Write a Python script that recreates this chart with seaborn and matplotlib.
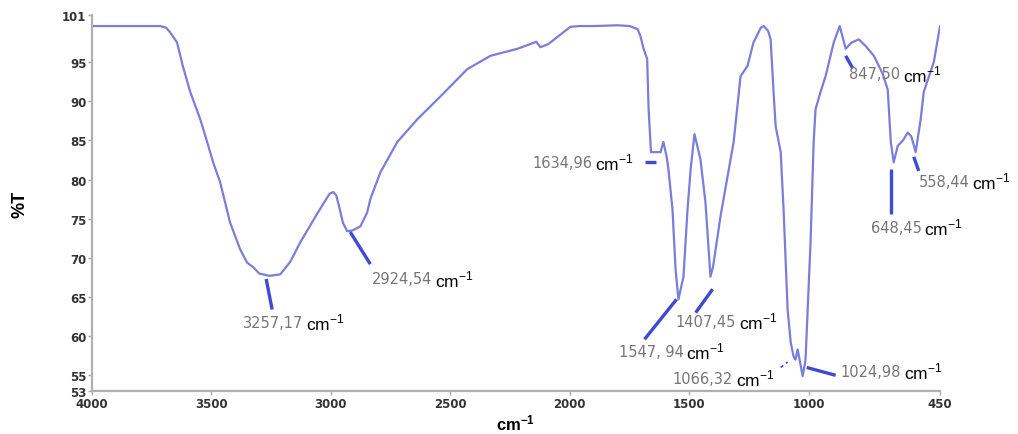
import matplotlib
matplotlib.use("Agg")
import matplotlib.pyplot as plt
import seaborn as sns
import pandas as pd

# ---- data ----
wavenumber = [4000, 3800, 3715, 3690, 3673, 3644, 3620, 3589, 3547, 3518, 3493, 3464,
              3422, 3380, 3351, 3325, 3300, 3257, 3212, 3170, 3128, 3060, 3030, 3005,
              2990, 2978, 2965, 2950, 2932, 2910, 2877, 2848, 2835, 2793, 2722, 2638,
              2542, 2429, 2332, 2219, 2165, 2140, 2123, 2090, 2052, 1998, 1960, 1900,
              1800, 1750, 1716, 1704, 1691, 1676, 1670, 1660, 1649, 1620, 1608, 1595,
              1587, 1570, 1557, 1545, 1524, 1507, 1494, 1478, 1453, 1432, 1411, 1400,
              1369, 1314, 1285, 1256, 1231, 1200, 1188, 1170, 1159, 1147, 1138, 1117,
              1105, 1088, 1075, 1063, 1055, 1046, 1025, 1013, 992, 979, 971, 950, 929,
              895, 870, 845, 820, 790, 760, 727, 690, 669, 656, 644, 627, 605, 585,
              570, 552, 531, 518, 476, 450]
transmittance = [99.6, 99.6, 99.6, 99.4, 98.8, 97.5, 94.5, 91.2, 87.7, 84.8, 82.2, 79.7,
                 74.5, 71.1, 69.4, 68.8, 68.0, 67.7, 67.9, 69.5, 72.0, 75.5, 77.0, 78.2,
                 78.4, 78.0, 76.5, 74.5, 73.4, 73.5, 74.0, 75.8, 77.5, 80.9, 84.8, 87.7,
                 90.6, 94.1, 95.8, 96.7, 97.3, 97.6, 96.9, 97.3, 98.2, 99.5, 99.6, 99.6,
                 99.7, 99.6, 99.2, 98.3, 96.7, 95.4, 89.0, 83.5, 83.5, 83.5, 84.8, 83.0,
                 81.3, 76.2, 68.5, 64.7, 67.6, 76.2, 81.3, 85.8, 82.6, 77.1, 67.6, 68.9,
                 75.3, 84.8, 93.2, 94.5, 97.5, 99.4, 99.6, 99.0, 97.9, 91.2, 86.8, 83.5,
                 76.2, 63.4, 59.2, 57.4, 57.0, 58.3, 54.9, 57.0, 72.0, 84.8, 89.0, 91.2,
                 93.2, 97.5, 99.6, 96.7, 97.5, 97.9, 97.0, 95.8, 93.5, 91.5, 84.8, 82.2,
                 84.3, 85.0, 86.0, 85.5, 83.5, 87.7, 91.2, 95.0, 99.6]

x_ticks = [4000, 3500, 3000, 2500, 2000, 1500, 1000, 450]
y_ticks = [53, 55, 60, 65, 70, 75, 80, 85, 90, 95, 101]

# peak annotations
peak_labels = ["3257,17", "2924,54", "1634,96", "1547, 94", "1407,45",
               "1066,32", "1024,98", "847,50", "648,45", "558,44"]
label_x = [3367, 2827, 2156, 1796, 1557, 1570, 866, 832, 740, 539]
label_y = [61.8, 67.3, 82.2, 58.1, 61.9, 54.6, 55.5, 93.5, 73.9, 79.8]
lead_x0 = [3271, 2919, 1683, 1553, 1402, 1117, 1008, 845, 656, 560]
lead_y0 = [67.3, 73.3, 82.2, 64.7, 66.0, 56.0, 56.0, 95.8, 81.3, 82.9]
lead_x1 = [3246, 2835, 1637, 1687, 1473, 1088, 887, 815, 656, 539]
lead_y1 = [63.4, 69.2, 82.2, 59.6, 63.0, 56.7, 55.0, 94.2, 75.6, 81.1]
lead_dashed = [False, False, False, False, False, True, False, False, False, False]

df = pd.DataFrame({"wavenumber": wavenumber, "T": transmittance})

sns.set_theme(style="white")
plt.rcParams["font.family"] = ["Liberation Sans", "DejaVu Sans"]
plt.rcParams["mathtext.fontset"] = "custom"
plt.rcParams["mathtext.rm"] = "Liberation Sans"
plt.rcParams["mathtext.bf"] = "Liberation Sans:bold"

fig = plt.figure(figsize=(10.18, 4.35), dpi=100)
ax = fig.add_axes([0.0904, 0.0989, 0.8330, 0.8641])

sns.lineplot(data=df, x="wavenumber", y="T", ax=ax, color="#7a7ed8",
             linewidth=1.6, estimator=None)

ax.set_xlim(4000, 450)
ax.set_ylim(53, 101)
ax.set_xticks(x_ticks)
ax.set_yticks(y_ticks)
tick_font = dict(fontsize=8.5, fontweight="bold", color="#333333", family="DejaVu Sans")
ax.set_xticklabels([str(v) for v in x_ticks], **tick_font)
ax.set_yticklabels([str(v) for v in y_ticks], **tick_font)
ax.tick_params(axis="both", which="both", direction="out", length=3, width=1,
               color="#aaaaaa", pad=1, left=True, bottom=True)

for side in ["top", "right"]:
    ax.spines[side].set_visible(False)
for side in ["left", "bottom"]:
    ax.spines[side].set_color("#b0b0b0")
    ax.spines[side].set_linewidth(1.6)

ax.set_xlabel(r"$\mathbf{cm^{-1}}$", fontsize=12, color="black", labelpad=2)
ax.set_ylabel("%T", fontsize=13, fontweight="bold", color="black", labelpad=24)

for lab, tx, ty, x0, y0, x1, y1, dsh in zip(peak_labels, label_x, label_y,
                                            lead_x0, lead_y0, lead_x1, lead_y1, lead_dashed):
    ax.plot([x0, x1], [y0, y1], color="#3d4ad6",
            linewidth=1.2 if dsh else 2.4,
            linestyle=(0, (2, 2)) if dsh else "-", clip_on=False,
            solid_capstyle="butt")
    t = ax.text(tx, ty, lab, fontsize=10.5, color="#767676", ha="left", va="center",
                family="DejaVu Sans", clip_on=False)
    ax.annotate("cm$^{-1}$", xy=(1.0, 0.5), xycoords=t, xytext=(2, 0),
                textcoords="offset points", fontsize=12.5, color="black",
                ha="left", va="center", annotation_clip=False)

fig.savefig("out.png", dpi=100)
